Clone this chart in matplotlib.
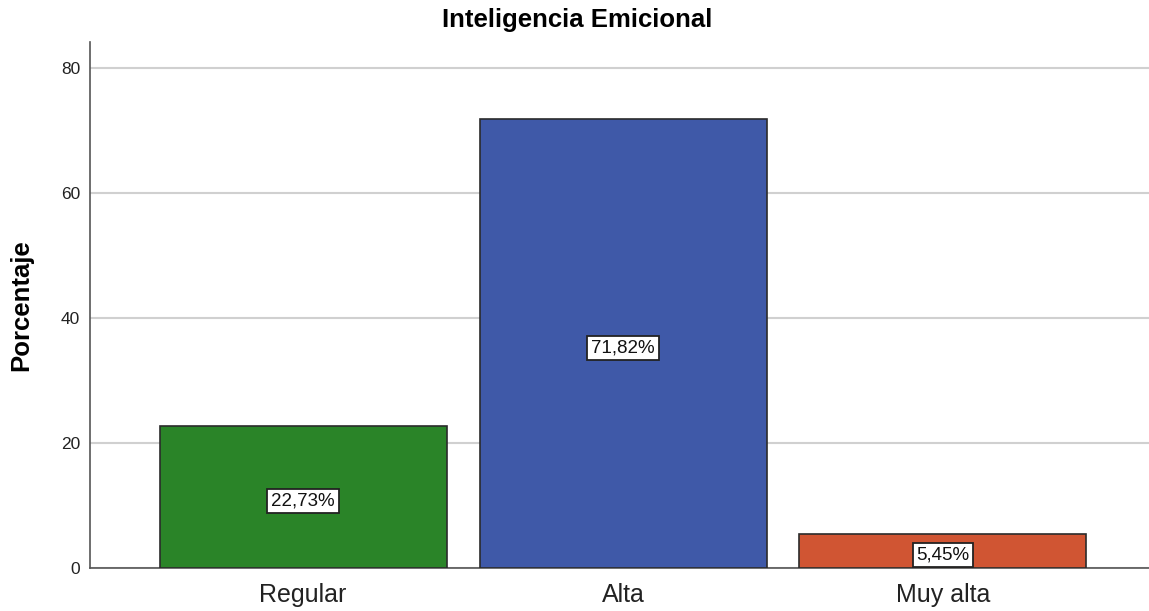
import matplotlib.pyplot as plt

plt.rcParams['font.family'] = ['Liberation Sans', 'DejaVu Sans']

categorias = ['Regular', 'Alta', 'Muy alta']
porcentajes = [22.73, 71.82, 5.45]
colores = ['#2a8428', '#3f59a8', '#d05533']
yticks = [0, 20, 40, 60, 80]

fig = plt.figure(figsize=(11.49, 6.11), dpi=100)
ax = fig.add_axes([0.0783, 0.0704, 0.9217, 0.8609])

x = list(range(len(categorias)))
ax.bar(x, porcentajes, width=0.897, color=colores, edgecolor='#2b2b2b',
       linewidth=1.2, zorder=3)

# etiquetas de porcentaje con coma decimal
for xi, v in zip(x, porcentajes):
    ax.annotate(f'{v:.2f}%'.replace('.', ','), (xi, v / 2), xytext=(0, -3),
                textcoords='offset points', ha='center', va='center',
                fontsize=13.5, color='#111111', zorder=4,
                bbox=dict(boxstyle='square,pad=0.2', fc='white', ec='#222222', lw=1.3))

ax.set_xlim(-0.666, 2.644)
ax.set_ylim(0, 84.2)
ax.set_yticks(yticks)
ax.set_yticklabels([str(t) for t in yticks], fontsize=12.5, color='#222222')
ax.set_xticks(x)
ax.set_xticklabels(categorias, fontsize=18, color='#222222')
ax.tick_params(axis='y', length=0, pad=7)
ax.tick_params(axis='x', length=0, pad=11)
ax.yaxis.grid(True, color='#d0d0d0', linewidth=1.5, zorder=0)
ax.set_axisbelow(True)

for s in ['top', 'right']:
    ax.spines[s].set_visible(False)
for s in ['left', 'bottom']:
    ax.spines[s].set_color('#555555')
    ax.spines[s].set_linewidth(1.2)

ax.set_ylabel('Porcentaje', fontsize=18.5, fontweight='bold', labelpad=20)
fig.text(0.502, 0.967, 'Inteligencia Emicional', ha='center', va='center',
         fontsize=18.5, fontweight='bold')

fig.savefig('out.png', dpi=100)
